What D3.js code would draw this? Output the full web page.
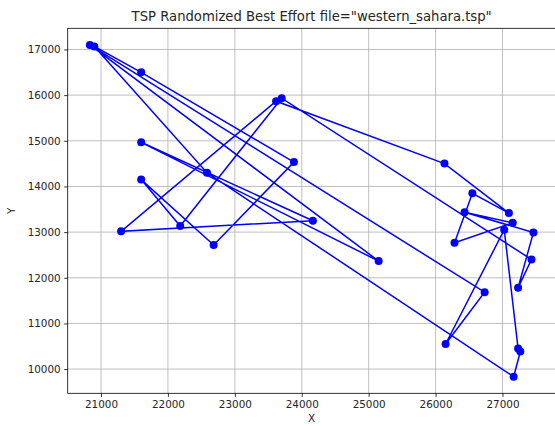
<!DOCTYPE html>
<meta charset="utf-8">
<html>
<head>
<title>TSP Randomized Best Effort</title>
<script src="https://d3js.org/d3.v7.min.js"></script>
<style>
  body { margin: 0; background: #fff; }
  text { font-family: "DejaVu Sans", sans-serif; fill: #262626; }
  .grid line { stroke: #b0b0b0; stroke-width: 0.8px; }
  .tour { fill: none; stroke: #0000ff; stroke-width: 1.5px; }
  .city { fill: #0000ff; }
</style>
</head>
<body>
<svg width="555" height="426"></svg>
<script>
// city coordinates (western_sahara.tsp), index = city number - 1
var cityX = [20833.3333, 20900.0000, 21300.0000, 21600.0000, 21600.0000, 21600.0000, 22183.3333,
             22583.3333, 22683.3333, 23616.6667, 23700.0000, 23883.3333, 24166.6667, 25149.1667,
             26133.3333, 26150.0000, 26283.3333, 26433.3333, 26550.0000, 26733.3333, 27026.1111,
             27096.1111, 27153.6111, 27166.6667, 27233.3333, 27233.3333, 27266.6667, 27433.3333,
             27462.5000];
var cityY = [17100.0000, 17066.6667, 13016.6667, 14150.0000, 14966.6667, 16500.0000, 13133.3333,
             14300.0000, 12716.6667, 15866.6667, 15933.3333, 14533.3333, 13250.0000, 12365.8333,
             14500.0000, 10550.0000, 12766.6667, 13433.3333, 13850.0000, 11683.3333, 13051.9444,
             13415.8333, 13203.3333, 9833.3333, 10450.0000, 11783.3333, 10383.3333, 12400.0000,
             12992.2222];
// visiting order (city numbers)
var tourOrder = [1, 14, 5, 13, 3, 10, 15, 22, 19, 17, 23, 18, 29, 26, 28, 11, 7, 4, 9, 12,
                 6, 2, 8, 24, 27, 25, 21, 16, 20, 1];
var xTicks = [21000, 22000, 23000, 24000, 25000, 26000, 27000];
var yTicks = [10000, 11000, 12000, 13000, 14000, 15000, 16000, 17000];

var svg = d3.select("svg");
var pLeft = 67.7, pRight = 555.6, pTop = 28.3, pBottom = 393.3;

// matplotlib-like 5% margins
var xMin = d3.min(cityX), xMax = d3.max(cityX), yMin = d3.min(cityY), yMax = d3.max(cityY);
var mx = (xMax - xMin) * 0.05, my = (yMax - yMin) * 0.05;
var x = d3.scaleLinear().domain([xMin - mx, xMax + mx]).range([pLeft, pRight]);
var y = d3.scaleLinear().domain([yMin - my, yMax + my]).range([pBottom, pTop]);

// grid
var grid = svg.append("g").attr("class", "grid");
grid.selectAll(".gx").data(xTicks).enter().append("line")
    .attr("x1", function(d) { return x(d); }).attr("x2", function(d) { return x(d); })
    .attr("y1", pTop).attr("y2", pBottom);
grid.selectAll(".gy").data(yTicks).enter().append("line")
    .attr("x1", pLeft).attr("x2", pRight)
    .attr("y1", function(d) { return y(d); }).attr("y2", function(d) { return y(d); });

// axes
var xAxis = d3.axisBottom(x).tickValues(xTicks).tickSize(3.5).tickPadding(3.5).tickFormat(d3.format("d"));
var yAxis = d3.axisLeft(y).tickValues(yTicks).tickSize(3.5).tickPadding(3.5).tickFormat(d3.format("d"));
var gx = svg.append("g").attr("transform", "translate(0," + pBottom + ")").call(xAxis);
var gy = svg.append("g").attr("transform", "translate(" + pLeft + ",0)").call(yAxis);
[gx, gy].forEach(function(g) {
  g.select(".domain").remove();
  g.selectAll(".tick line").attr("stroke", "#000").attr("stroke-width", 0.8);
  g.selectAll(".tick text").style("font-size", "10.4px").attr("fill", "#262626");
});

// frame
svg.append("rect").attr("x", pLeft).attr("y", pTop)
    .attr("width", pRight - pLeft).attr("height", pBottom - pTop)
    .attr("fill", "none").attr("stroke", "#000").attr("stroke-width", 0.8);

// tour
var pts = tourOrder.map(function(c) { return [cityX[c - 1], cityY[c - 1]]; });
var line = d3.line().x(function(d) { return x(d[0]); }).y(function(d) { return y(d[1]); });
svg.append("path").datum(pts).attr("class", "tour").attr("d", line);

svg.append("g").selectAll("circle")
    .data(pts.slice(0, -1))
  .enter().append("circle")
    .attr("class", "city")
    .attr("cx", function(d) { return x(d[0]); })
    .attr("cy", function(d) { return y(d[1]); })
    .attr("r", 4);

// labels
svg.append("text").attr("x", (pLeft + pRight) / 2).attr("y", 21)
    .attr("text-anchor", "middle").style("font-size", "13.2px")
    .text('TSP Randomized Best Effort file="western_sahara.tsp"');
svg.append("text").attr("x", (pLeft + pRight) / 2).attr("y", 422)
    .attr("text-anchor", "middle").style("font-size", "10.4px").text("X");
svg.append("text").attr("transform", "translate(15," + ((pTop + pBottom) / 2) + ") rotate(-90)")
    .attr("text-anchor", "middle").style("font-size", "10.4px").text("Y");
</script>
</body>
</html>
